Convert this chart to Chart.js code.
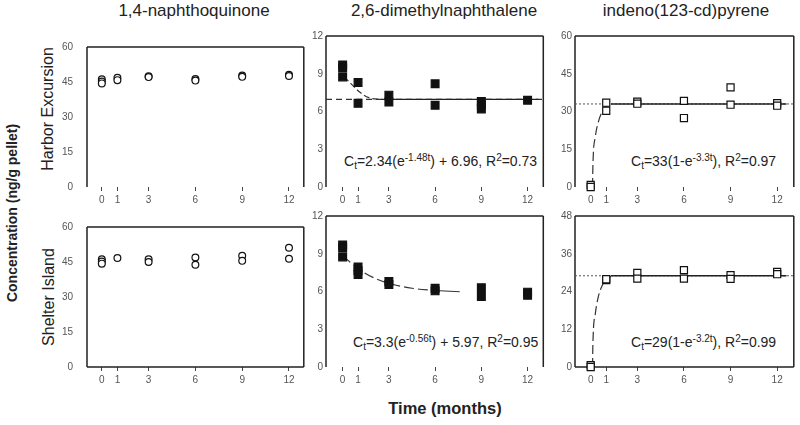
<!DOCTYPE html>
<html>
<head>
<meta charset="utf-8">
<script src="https://cdn.jsdelivr.net/npm/chart.js@4.4.1/dist/chart.umd.min.js"></script>
<style>
body{margin:0;width:800px;height:425px;background:#fff;overflow:hidden;position:relative;font-family:"Liberation Sans",Arial,sans-serif;color:#222}
canvas{position:absolute}
.t{position:absolute;white-space:nowrap;transform:translate(-50%,-50%)}
.title{font-size:17px}
.row{font-size:16px;transform:translate(-50%,-50%) rotate(-90deg)}
.axis{font-size:14px;font-weight:bold}
.eq{position:absolute;font-size:14px;white-space:nowrap;line-height:16px;transform:translateY(-50%)}
.eq sub,.eq sup{font-size:10px;vertical-align:baseline;position:relative}
.eq sub{top:3px}
.eq sup{top:-5px}
</style>
</head>
<body>
<div class="t title" style="left:194px;top:11px">1,4-naphthoquinone</div>
<div class="t title" style="left:444px;top:11px">2,6-dimethylnaphthalene</div>
<div class="t title" style="left:686px;top:11px">indeno(123-cd)pyrene</div>
<div class="t row" style="left:48px;top:109px">Harbor Excursion</div>
<div class="t row" style="left:49px;top:297px">Shelter Island</div>
<div class="t axis row" style="left:12px;top:213px;font-size:14px">Concentration (ng/g pellet)</div>
<div class="t axis" style="left:445px;top:408px;font-size:16.5px">Time (months)</div>
<div class="eq" style="left:344px;top:162px">C<sub>t</sub>=2.34(e<sup>-1.48t</sup>) + 6.96, R<sup>2</sup>=0.73</div>
<div class="eq" style="left:353px;top:343px">C<sub>t</sub>=3.3(e<sup>-0.56t</sup>) + 5.97, R<sup>2</sup>=0.95</div>
<div class="eq" style="left:631px;top:162px">C<sub>t</sub>=33(1-e<sup>-3.3t</sup>), R<sup>2</sup>=0.97</div>
<div class="eq" style="left:631px;top:343px">C<sub>t</sub>=29(1-e<sup>-3.2t</sup>), R<sup>2</sup>=0.99</div>
<script>
const xTicks = [0, 1, 3, 6, 9, 12];

// 1,4-naphthoquinone
const nqHarborT = [0, 0, 0, 1, 1, 3, 3, 6, 6, 9, 9, 12, 12];
const nqHarborC = [46.2, 45.2, 44.4, 46.8, 45.8, 47.5, 47.1, 46.3, 45.6, 47.8, 47.2, 48.1, 47.6];
const nqShelterT = [0, 0, 0, 1, 3, 3, 6, 6, 9, 9, 12, 12];
const nqShelterC = [46.2, 45.2, 44.3, 46.7, 46.2, 45.0, 46.9, 43.8, 47.7, 45.5, 51.1, 46.4];

// 2,6-dimethylnaphthalene
const dmnHarborT = [0, 0, 0, 1, 1, 3, 3, 6, 6, 9, 9, 9, 12];
const dmnHarborC = [9.7, 9.45, 8.75, 8.3, 6.65, 7.3, 6.75, 8.2, 6.5, 6.8, 6.5, 6.2, 6.9];
const dmnHarborFitT = [0.1, 0.55, 1.1, 1.7, 2.5];
const dmnHarborFitC = [8.75, 8.2, 7.55, 7.1, 6.96];
const dmnHarborSolidT = [2.5, 12.7];
const dmnHarborLevelT = [-1.08, 13.02];
const dmnHarborLevel = 6.96;

const dmnShelterT = [0, 0, 0, 1, 1, 1, 3, 3, 6, 6, 9, 9, 12, 12];
const dmnShelterC = [9.7, 9.45, 8.75, 7.95, 7.65, 7.35, 6.8, 6.55, 6.25, 6.05, 6.3, 5.6, 5.95, 5.7];
const dmnShelterFitT = [0, 1, 2, 3, 4.5, 6];
const dmnShelterFitC = [8.85, 7.82, 7.1, 6.65, 6.26, 6.08];
const dmnShelterTailT = [6, 7.6];
const dmnShelterTailC = [6.08, 5.98];

// indeno(123-cd)pyrene
const ipHarborT = [0, 0, 1, 1, 3, 3, 6, 6, 9, 9, 12, 12];
const ipHarborC = [0.8, 0, 33.5, 30.3, 33.9, 33.1, 34.2, 27.4, 39.6, 32.7, 33.3, 32.3];
const ipHarborFitT = [0.12, 0.14, 0.3, 0.5, 0.75, 1.05, 1.3];
const ipHarborFitC = [0, 8, 20, 26, 30, 32.4, 33];
const ipHarborSolidT = [1.3, 12.6];
const ipHarborLevelT = [-1.01, 13.07];
const ipHarborLevel = 33;

const ipShelterT = [0, 0, 1, 1, 3, 3, 6, 6, 9, 9, 12, 12];
const ipShelterC = [0.6, 0, 27.6, 27.9, 29.9, 28.1, 30.8, 28.1, 29.2, 28.0, 30.2, 29.5];
const ipShelterFitT = [0.12, 0.14, 0.3, 0.5, 0.75, 1.05, 1.3];
const ipShelterFitC = [0, 7, 17, 22.5, 26, 28, 28.8];
const ipShelterSolidT = [1.3, 12.6];
const ipShelterLevelT = [-1.01, 13.07];
const ipShelterLevel = 29;

const pts = (t, c) => t.map((x, i) => ({x, y: Array.isArray(c) ? c[i] : c}));

const dots = (t, c, style, r, fill) => ({
  data: pts(t, c), pointStyle: style, pointRadius: r, pointBorderColor: '#111',
  pointBackgroundColor: fill, pointBorderWidth: 1.2, showLine: false, clip: false
});
const curve = (t, c, dash, w, col) => ({
  data: pts(t, c), showLine: true, pointRadius: 0, borderColor: col || '#333',
  borderWidth: w || 1.2, borderDash: dash || [], cubicInterpolationMode: 'monotone', clip: false
});

const framePlugin = {
  id: 'frame',
  beforeDatasetsDraw(chart, args, o) {
    const {ctx, chartArea: a} = chart;
    ctx.save();
    ctx.strokeStyle = '#222';
    ctx.lineWidth = 1.5;
    ctx.beginPath();
    if (o.top) { ctx.moveTo(a.left, a.top); ctx.lineTo(a.right, a.top); }
    if (o.right) { ctx.moveTo(a.right, a.top); ctx.lineTo(a.right, a.bottom); }
    if (o.bottom) { ctx.moveTo(a.left, a.bottom); ctx.lineTo(a.right, a.bottom); }
    ctx.moveTo(a.left, a.top); ctx.lineTo(a.left, a.bottom);
    ctx.stroke();
    ctx.restore();
  }
};

function panel(left, top, w, h, xMin, xMax, yMax, yStep, sides, yPad, datasets) {
  const c = document.createElement('canvas');
  const padL = 40, padT = 6, padR = 2, padB = 26;
  c.width = w + padL + padR;
  c.height = h + padT + padB;
  c.style.left = (left - padL) + 'px';
  c.style.top = (top - padT) + 'px';
  document.body.appendChild(c);
  new Chart(c, {
    type: 'scatter',
    data: {datasets},
    options: {
      responsive: false,
      animation: false,
      layout: {padding: {top: padT, right: padR, left: 0, bottom: 0}},
      plugins: {legend: {display: false}, tooltip: {enabled: false}, frame: sides},
      scales: {
        x: {
          type: 'linear', min: xMin, max: xMax,
          afterFit: s => { s.height = padB; },
          afterBuildTicks: s => { s.ticks = xTicks.map(v => ({value: v})); },
          border: {display: false},
          grid: {drawOnChartArea: false, tickLength: 4, color: '#444'},
          ticks: {color: '#555', font: {size: 10, family: 'Liberation Sans'}, padding: 3, maxRotation: 0}
        },
        y: {
          min: 0, max: yMax,
          afterFit: s => { s.width = padL; },
          border: {display: false},
          grid: {display: false, drawTicks: false, tickLength: 0},
          ticks: {stepSize: yStep, color: '#555', font: {size: 10, family: 'Liberation Sans'}, padding: yPad}
        }
      }
    },
    plugins: [framePlugin]
  });
}

// top row: Harbor Excursion
panel(87, 33, 220, 154, -0.95, 12.95, 60, 15, {top: true, right: true}, 14, [
  dots(nqHarborT, nqHarborC, 'circle', 3.4, '#fff')
]);
panel(326, 33, 222, 154, -1.08, 13.02, 12, 3, {top: true, right: true}, 3, [
  dots(dmnHarborT, dmnHarborC, 'rect', 5.5, '#111'),
  curve(dmnHarborFitT, dmnHarborFitC, [6, 3]),
  curve(dmnHarborSolidT, dmnHarborLevel, [], 1.4, '#222'),
  curve(dmnHarborLevelT, dmnHarborLevel, [6, 4], 1.2)
]);
panel(575, 33, 223, 154, -1.01, 13.07, 60, 15, {top: true, right: true}, 3, [
  dots(ipHarborT, ipHarborC, 'rect', 5, '#fff'),
  curve(ipHarborFitT, ipHarborFitC, [9, 4]),
  curve(ipHarborSolidT, ipHarborLevel, [], 1.4, '#222'),
  curve(ipHarborLevelT, ipHarborLevel, [2, 2], 1, '#555')
]);

// bottom row: Shelter Island
panel(87, 213, 220, 154, -0.95, 12.95, 60, 15, {top: true, right: true, bottom: true}, 14, [
  dots(nqShelterT, nqShelterC, 'circle', 3.4, '#fff')
]);
panel(326, 213, 222, 154, -1.08, 13.02, 12, 3, {top: true, right: true}, 3, [
  dots(dmnShelterT, dmnShelterC, 'rect', 5.5, '#111'),
  curve(dmnShelterFitT, dmnShelterFitC, [10, 4]),
  curve(dmnShelterTailT, dmnShelterTailC, [], 1.2)
]);
panel(575, 213, 223, 154, -1.01, 13.07, 48, 12, {top: true, right: true, bottom: true}, 3, [
  dots(ipShelterT, ipShelterC, 'rect', 5, '#fff'),
  curve(ipShelterFitT, ipShelterFitC, [9, 4]),
  curve(ipShelterSolidT, ipShelterLevel, [], 1.4, '#222'),
  curve(ipShelterLevelT, ipShelterLevel, [2, 2], 1, '#555')
]);
</script>
</body>
</html>
